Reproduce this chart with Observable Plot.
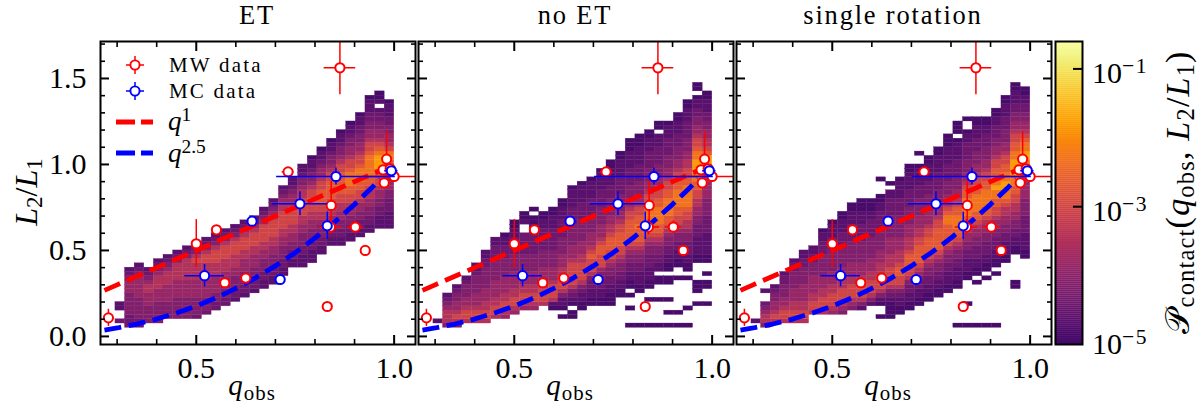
<!DOCTYPE html>
<html><head><meta charset="utf-8">
<script src="https://cdn.jsdelivr.net/npm/d3@7"></script>
<script src="https://cdn.jsdelivr.net/npm/@observablehq/plot@0.6"></script>
<style>
html,body{margin:0;padding:0;background:#fff}
#c{position:relative;width:1200px;height:405px;overflow:hidden;font-family:"Liberation Serif",serif;color:#000}
#c svg.p{position:absolute;top:0}
.t{position:absolute;white-space:nowrap;line-height:1}
.title{top:0;font-size:26.5px;line-height:normal;letter-spacing:1.8px;transform:translateX(-50%)}
.lab{top:371px;font-size:29px;letter-spacing:1px;transform:translateX(-50%)}
.leg{font-size:21px;letter-spacing:2.2px}
sub{font-size:.72em;vertical-align:-.22em;line-height:0}
sup{font-size:.72em;vertical-align:.45em;line-height:0}
</style></head><body><div id="c"></div>
<script>
// Panel titles
const panelTitles = ["ET", "no ET", "single rotation"];
// Tick values
const xMajor = [0.5, 1.0];
const xMinor = [0.3, 0.4, 0.6, 0.7, 0.8, 0.9];
const yMajor = [0, 0.5, 1.0, 1.5];
const yMinor = [0.1,0.2,0.3,0.4,0.6,0.7,0.8,0.9,1.1,1.2,1.3,1.4,1.6,1.7];
const cbTicks = [1e-1, 1e-3];
const cbLabels = [1e-1, 1e-3, 1e-5];
// Observed binaries
const mwQ  = [0.278,0.500,0.551,0.572,0.625,0.732,0.863,0.841,0.839,0.902,0.927,0.831,0.981,0.972,0.990,0.975,1.000];
const mwL  = [0.108,0.539,0.620,0.312,0.339,0.957,1.562,0.762,0.636,0.636,0.500,0.174,1.031,0.969,0.975,0.893,0.930];
const mwQe = [0.008,0.000,0.010,0.000,0.000,0.015,0.040,0.000,0.028,0.020,0.000,0.000,0.000,0.000,0.000,0.000,0.070];
const mwLe = [0.050,0.140,0.020,0.000,0.000,0.020,0.157,0.140,0.045,0.035,0.000,0.000,0.160,0.000,0.000,0.000,0.000];
const mcQ  = [0.521,0.641,0.712,0.762,0.853,0.831,0.993];
const mcL  = [0.353,0.670,0.331,0.771,0.930,0.643,0.963];
const mcQe = [0.050,0.000,0.014,0.070,0.150,0.008,0.017];
const mcLe = [0.065,0.000,0.000,0.070,0.050,0.080,0.025];
// Reference relations
const curveQ  = [0.268,0.30,0.35,0.40,0.45,0.50,0.55,0.60,0.65,0.70,0.75,0.80,0.85,0.90,0.945,0.965];
const curveQ1 = [0.268,0.30,0.35,0.40,0.45,0.50,0.55,0.60,0.65,0.70,0.75,0.80,0.85,0.90,0.945,0.965];
const curveQ25= [0.037,0.049,0.072,0.101,0.136,0.177,0.224,0.279,0.341,0.410,0.487,0.572,0.666,0.768,0.868,0.915];
// log10 density for each level digit used in the heat columns
const levelLog = [-4.9,-4.68,-4.42,-4.15,-3.85,-3.5,-3.05,-2.7,-2.3,-1.8];
// Heat cells: each column = [first row, density levels from bottom to top]; '.' is an empty bin
const heatET = [
[1,"2..11"],
[0,"22233333444321"],[0,"223333344444321"],[1,"3333444554321"],[1,"333334445554321"],
[2,"333344445554321"],[2,"3333344445555321"],[2,"33333444455555321"],[2,"233334444555565321"],
[3,"233344445555665321"],[4,"223344445556665321"],[5,"223334445556665321"],[6,"122333445556665321"],
[7,"122333444556665421"],[8,"122233444556665421"],[9,"1122333445566664321"],[10,"11223334455666654321"],
[12,"112233344556666554321"],[14,"112233445566665443211"],[14,"111223334455666655433211"],[15,"1112233344556676654332110"],
[17,"1122333455667776654432110"],[19,"1122334556677776654332110"],[19,"112233445566777776654332110"],[20,"1122334456677888766544332110"],
[21,"11223344566778887665443322110"],[22,"11223344556778888876654433221110"],[23,"1112233445667899987654433221.100"],[23,"111122233444556788654433221110"]
];
const heatNoET = [
[1,"1"],
[0,"35554321"],[0,"3565443321"],[1,"56654433321"],[1,"56654443333211"],[1,"56655444333332211"],
[2,"5665544443333322211"],[2,"45665544443333222110"],[3,"4566554444333322221100"],
[4,"456655444333322222..100"],[4,"4566554443333222221100.0"],[5,"5666554443333222221100"],
[4,"015666544433332222211100"],[2,"0.01135666554443333222211100"],[2,"00.0123566666544433333222211110"],
[4,"001123566665544433333222211110"],[5,"001122356667654443333222211110"],[5,"00112233466677654443333222211110"],
[5,"0001122334566777655443333222111100"],[7,"0011223345667776654433332222111100"],
[0,"0...0..0.00112233456777776654433322221111000"],[0,"0.......0011122334567778776654433322221111000"],
[0,"0.....0..0011122233456778887766544333222211100"],[0,"0.....0...00.11223345677888877665443332222111.00"],
[0,"0..0..0...00.00112233456778888776654433322221110"],[0,"0..0.......0..001122334566778888776654433322211100"],
[0,"0...0......0.0011222334556678888877665544333222211100"],[0,".....0..000....001111222334455667788999887665443322110.00"],
[0,".....0...00.0..0011111222233334444567899765544332211100"]
];
const heatSingle = [
[1,"1"],
[0,"355432..1"],[1,"565443321"],[1,"566544333221"],[1,"566554443333221"],[1,"56655444433332211"],
[3,"5665544443332211"],[3,"56665544433333222110"],[3,"4566655444333332221110"],[3,"345666554443333322211100"],
[4,"3456665544433333222211100"],[4,"13566655444333332222111000"],[5,"1356665544433333222211000"],
[2,"0..01356665554443333322221100...0"],[2,"000012356666555444433333222211.0"],
[3,"00112356677655544433333222211110"],[4,"0011223566777655544433332222111100"],[5,"001122345677776655444333322211110..0"],
[6,"0011223345677776654443333222111100"],[7,"00112233456777776654443332222111100"],[8,"0011122334567777887654433322221111000"],
[0,"0........00111223345677888776544333222211110.000"],[0,"0....0.....00111223344567788887765443332222110..0"],
[0,"0.........0.0011222334456778888776654433322211100"],[0,"0..........0.001122233445677888877665443332221100"],
[0,"0...........0.0011222334456677889887766544332221100"],[15,"001112233445567889988776654433322211100"],
[0,".........00......0011223344556677889999887766544332211100"],[16,"0011112222333344445678899887654433221100"]
];

// ---- builders -----
const xDomain=[0.258,1.054], yDomain=[-0.047,1.715];
const qStart=0.2957, qWidth=0.0243, rowStart=0.05, rowH=0.025;
const levelToP=l=>Math.pow(10,levelLog[l]);
function cells(cols){
  const out=[];
  cols.forEach(([first,s],k)=>{
    [...s].forEach((ch,i)=>{
      if(ch===".")return;
      const r=first+i;
      out.push({q1:qStart+k*qWidth,q2:qStart+(k+1)*qWidth,l1:rowStart+r*rowH,l2:rowStart+(r+1)*rowH,p:levelToP(+ch)});
    });
  });
  return out;
}
const colorScale={type:"log",domain:[1e-5,0.25],clamp:true,interpolate:t=>d3.interpolateInferno(0.2+0.8*t)};
const mw=mwQ.map((q,i)=>({q,l:mwL[i],qe:mwQe[i],le:mwLe[i]}));
const mc=mcQ.map((q,i)=>({q,l:mcL[i],qe:mcQe[i],le:mcLe[i]}));
const c1=curveQ.map((q,i)=>({q,l:curveQ1[i]}));
const c25=curveQ.map((q,i)=>({q,l:curveQ25[i]}));
function errs(d,col){return [
  Plot.ruleY(d.filter(e=>e.qe>0),{y:"l",x1:e=>e.q-e.qe,x2:e=>e.q+e.qe,stroke:col,strokeWidth:1.5,clip:"frame"}),
  Plot.ruleX(d.filter(e=>e.le>0),{x:"q",y1:e=>e.l-e.le,y2:e=>e.l+e.le,stroke:col,strokeWidth:1.5,clip:"frame"})
];}
function panel(cols,left,ml,showY){
  const w=ml+315+2;
  const s=Plot.plot({
    width:w,height:405,marginLeft:ml,marginRight:2,marginTop:41,marginBottom:61,
    style:{background:"transparent",fontFamily:"Liberation Serif",overflow:"visible"},
    x:{domain:xDomain,axis:null},y:{domain:yDomain,axis:null},color:colorScale,
    marks:[
      Plot.rect(cells(cols),{x1:"q1",x2:"q2",y1:"l1",y2:"l2",fill:"p",stroke:"p",strokeWidth:0.3}),
      Plot.line(c1,{x:"q",y:"l",stroke:"#ff0000",strokeWidth:4.8,strokeLinecap:"butt",strokeDasharray:"17,7.6",clip:"frame"}),
      Plot.line(c25,{x:"q",y:"l",stroke:"#0000ff",strokeWidth:4.8,strokeLinecap:"butt",strokeDasharray:"17,7.6",clip:"frame"}),
      ...errs(mw,"#ff0000"),
      Plot.dot(mw,{x:"q",y:"l",r:4.6,fill:"white",stroke:"#ff0000",strokeWidth:2}),
      ...errs(mc,"#0000ff"),
      Plot.dot(mc,{x:"q",y:"l",r:4.6,fill:"white",stroke:"#0000ff",strokeWidth:2}),
      Plot.axisX(xMajor,{anchor:"bottom",tickSize:-9,strokeWidth:2,tickFormat:()=>""}),
      Plot.axisX(xMinor,{anchor:"bottom",tickSize:-5,strokeWidth:1.6,tickFormat:()=>""}),
      Plot.axisX(xMajor,{anchor:"top",tickSize:-9,strokeWidth:2,tickFormat:()=>""}),
      Plot.axisX(xMinor,{anchor:"top",tickSize:-5,strokeWidth:1.6,tickFormat:()=>""}),
      Plot.axisY(yMajor,{anchor:"left",tickSize:-9,strokeWidth:2,tickFormat:()=>""}),
      Plot.axisY(yMinor,{anchor:"left",tickSize:-5,strokeWidth:1.6,tickFormat:()=>""}),
      Plot.axisY(yMajor,{anchor:"right",tickSize:-9,strokeWidth:2,tickFormat:()=>""}),
      Plot.axisY(yMinor,{anchor:"right",tickSize:-5,strokeWidth:1.6,tickFormat:()=>""}),
      Plot.axisX(xMajor,{anchor:"bottom",tickSize:0,tickPadding:12,fontSize:30,tickFormat:".1f",color:"black"}),
      showY?Plot.axisY(yMajor,{anchor:"left",tickSize:0,tickPadding:14,fontSize:30,tickFormat:".1f",color:"black"}):null,
      Plot.frame({stroke:"black",strokeWidth:2})
    ]
  });
  s.setAttribute("class","p");s.style.left=left+"px";s.style.position="absolute";s.style.top="0";
  return s;
}
const root=document.getElementById("c");
root.appendChild(panel(heatET,0,100,true));
root.appendChild(panel(heatNoET,415.5,2,false));
root.appendChild(panel(heatSingle,734,2,false));

// colour bar
const cb=Plot.plot({
  width:27+2+118,height:405,marginLeft:2,marginRight:118,marginTop:41,marginBottom:61,
  style:{background:"transparent",fontFamily:"Liberation Serif",overflow:"visible"},
  x:{domain:[0,1],axis:null},y:{type:"log",domain:[1e-5,0.25],axis:null},color:colorScale,
  marks:[
    Plot.rect(d3.range(0,150).map(i=>{const a=-5+i/150*(Math.log10(0.25)+5),b=a+(Math.log10(0.25)+5)/150;return{a:10**a,b:10**b,m:10**((a+b)/2)}}),{x1:0,x2:1,y1:"a",y2:"b",fill:"m",stroke:"m",strokeWidth:0.3}),
    Plot.axisY(cbTicks,{anchor:"right",tickSize:-10,strokeWidth:2,tickFormat:()=>""}),
    Plot.frame({stroke:"black",strokeWidth:2})
  ]
});
cb.setAttribute("class","p");cb.style.left="1053px";root.appendChild(cb);

// text overlays
function add(html,cls,css){const d=document.createElement("div");d.className="t "+cls;d.innerHTML=html;Object.assign(d.style,css||{});root.appendChild(d);return d;}
[257,575,893].forEach((x,i)=>add(panelTitles[i],"title",{left:x+"px"}));
[252,570,888].forEach(x=>add('<i>q</i><sub>obs</sub>',"lab",{left:x+"px"}));
cbLabels.forEach(v=>{
  const y=cb.scale("y").apply(v);
  add('10<sup style="letter-spacing:1.5px">\u2212'+Math.round(-Math.log10(v))+'</sup>',"",{left:"1092px",top:(Math.min(y,339)-10)+"px",fontSize:"30px"});
});
add('<i>L</i><sub>2</sub>/<i>L</i><sub>1</sub>',"",{left:"26px",top:"192px",fontSize:"32px",transform:"translate(-50%,-50%) rotate(-90deg)"});
add('<span style="font-family:\'DejaVu Sans\'">𝒫</span><sub>contact</sub>(<i>q</i><sub>obs</sub>, <i>L</i><sub>2</sub>/<i>L</i><sub>1</sub>)',"",{left:"1177px",top:"192px",fontSize:"34px",letterSpacing:"1.2px",transform:"translate(-50%,-50%) rotate(-90deg)"});
// legend
const ns="http://www.w3.org/2000/svg";
const lg=document.createElementNS(ns,"svg");
lg.setAttribute("width",1200);lg.setAttribute("height",405);
lg.style.cssText="position:absolute;left:0;top:0";
const key=(y,col)=>`<path d="M126 ${y}H144M135 ${y-9}V${y+9}" stroke="${col}" stroke-width="1.5"/><circle cx="135" cy="${y}" r="4.6" fill="#fff" stroke="${col}" stroke-width="1.9"/>`;
const ln=(y,col)=>`<path d="M116 ${y}H135M141 ${y}H153" stroke="${col}" stroke-width="4.8"/>`;
lg.innerHTML=key(65,"#ff0000")+key(91,"#0000ff")+ln(122,"#ff0000")+ln(153,"#0000ff");
root.appendChild(lg);
add("MW data","leg",{left:"169px",top:"55px"});
add("MC data","leg",{left:"169px",top:"81px"});
add('<i>q</i><sup>1</sup>',"",{left:"168px",top:"108px",fontSize:"27px"});
add('<i>q</i><sup>2.5</sup>',"",{left:"168px",top:"140px",fontSize:"27px"});
</script></body></html>
